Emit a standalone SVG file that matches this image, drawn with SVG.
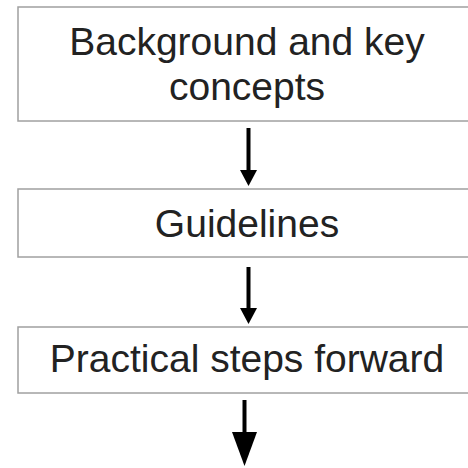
<svg xmlns="http://www.w3.org/2000/svg" width="468" height="468" viewBox="0 0 468 468">
<style>
.box{fill:#ffffff;stroke:#a0a0a0;stroke-width:1.5}
.lbl{font-family:"Liberation Sans",Arial,sans-serif;font-size:39px;fill:#222222;text-anchor:middle}
.shaft{stroke:#000;stroke-width:4;fill:none}
.head{fill:#000}
</style>
<rect width="468" height="468" fill="#ffffff"/>
<g id="node-background">
<rect class="box" x="18" y="7" width="470" height="114"/>
<text class="lbl" x="247" y="55">Background and key</text>
<text class="lbl" x="247" y="100">concepts</text>
</g>
<g id="node-guidelines">
<rect class="box" x="18" y="189" width="470" height="68"/>
<text class="lbl" x="247" y="237">Guidelines</text>
</g>
<g id="node-practical">
<rect class="box" x="18" y="327" width="470" height="66"/>
<text class="lbl" x="247" y="372">Practical steps forward</text>
</g>
<g id="connectors">
<line class="shaft" x1="248.5" y1="128" x2="248.5" y2="172"/>
<polygon class="head" points="240,170 257,170 248.5,186"/>
<line class="shaft" x1="248.5" y1="267" x2="248.5" y2="310"/>
<polygon class="head" points="240,308 257,308 248.5,324"/>
<line class="shaft" x1="244.5" y1="400" x2="244.5" y2="434"/>
<polygon class="head" points="232,432 257,432 244.5,466"/>
</g>
</svg>
